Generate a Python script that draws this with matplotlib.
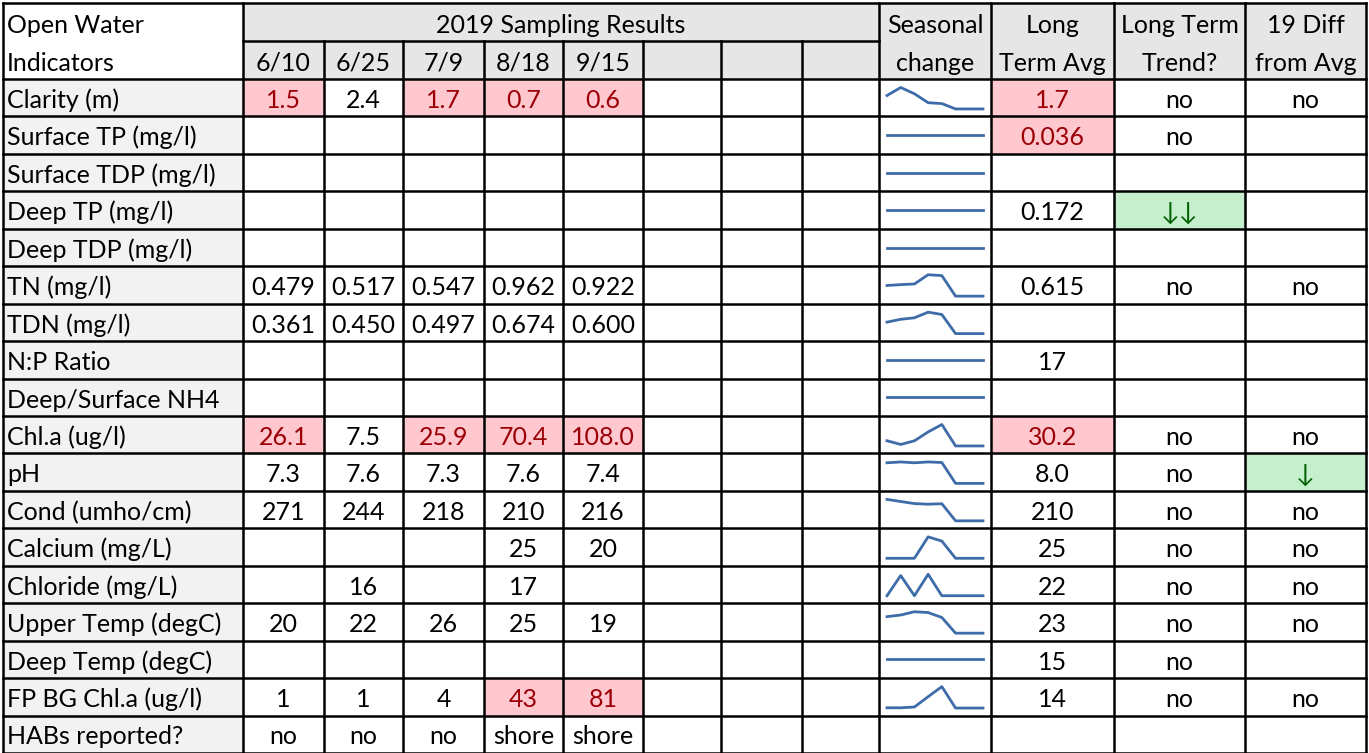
import matplotlib
matplotlib.use("Agg")
import matplotlib.pyplot as plt
from matplotlib.patches import Rectangle

# table content
dates = ["6/10", "6/25", "7/9", "8/18", "9/15", "", "", ""]
indicators = ["Clarity (m)", "Surface TP (mg/l)", "Surface TDP (mg/l)", "Deep TP (mg/l)",
              "Deep TDP (mg/l)", "TN (mg/l)", "TDN (mg/l)", "N:P Ratio", "Deep/Surface NH4",
              "Chl.a (ug/l)", "pH", "Cond (umho/cm)", "Calcium (mg/L)", "Chloride (mg/L)",
              "Upper Temp (degC)", "Deep Temp (degC)", "FP BG Chl.a (ug/l)", "HABs reported?"]

samples = [
    ["1.5", "2.4", "1.7", "0.7", "0.6"],
    [], [], [], [],
    ["0.479", "0.517", "0.547", "0.962", "0.922"],
    ["0.361", "0.450", "0.497", "0.674", "0.600"],
    [], [],
    ["26.1", "7.5", "25.9", "70.4", "108.0"],
    ["7.3", "7.6", "7.3", "7.6", "7.4"],
    ["271", "244", "218", "210", "216"],
    ["", "", "", "25", "20"],
    ["", "16", "", "17", ""],
    ["20", "22", "26", "25", "19"],
    [],
    ["1", "1", "4", "43", "81"],
    ["no", "no", "no", "shore", "shore"],
]
# cells flagged red (row, col)
bad_samples = [(0, 0), (0, 2), (0, 3), (0, 4), (9, 0), (9, 2), (9, 3), (9, 4), (16, 3), (16, 4)]

long_avg = ["1.7", "0.036", "", "0.172", "", "0.615", "", "17", "", "30.2", "8.0",
            "210", "25", "22", "23", "15", "14", ""]
bad_avg = [0, 1, 9]
trend = ["no", "no", "", "\u2193\u2193", "", "no", "", "", "", "no", "no",
         "no", "no", "no", "no", "no", "no", ""]
diff = ["no", "", "", "", "", "no", "", "", "", "no", "\u2193",
        "no", "no", "no", "no", "", "no", ""]

# layout in pixels
W, H = 1369, 753
col_x = [3, 243, 324, 403, 484, 563, 643, 721, 802, 879, 991, 1114, 1245, 1366]
top, h1, h2 = 3, 41, 79
row_h = (753 - h2) / 18.0

hdr_gray = "#E7E6E6"
lbl_gray = "#F2F2F2"
red_bg, red_fg = "#FFC7CE", "#9C0006"
grn_bg, grn_fg = "#C6EFCE", "#006100"
spark_col = "#3E6CA8"
fam = ["Lato", "DejaVu Sans"]
fs = 18

fig = plt.figure(figsize=(W / 100, H / 100), dpi=100)
ax = fig.add_axes([0, 0, 1, 1])
ax.set_xlim(0, W)
ax.set_ylim(H, 0)
ax.axis("off")


def fill(x0, y0, x1, y1, c):
    ax.add_patch(Rectangle((x0, y0), x1 - x0, y1 - y0, fc=c, ec="none", zorder=1))


def put(x, ybot, s, color="black", ha="center"):
    ax.text(x, ybot - 8.5, s, ha=ha, va="baseline", fontsize=fs, family=fam, color=color, zorder=3)


def line(x0, y0, x1, y1):
    ax.plot([x0, x1], [y0, y1], color="black", lw=1.8, solid_capstyle="projecting", zorder=4)


# header
fill(col_x[1], top, col_x[-1], h2, hdr_gray)
put(col_x[0] + 4, h1, "Open Water", ha="left")
put(col_x[0] + 4, h2, "Indicators", ha="left")
put((col_x[1] + col_x[9]) / 2, h1, "2019 Sampling Results")
for j, d in enumerate(dates):
    put((col_x[1 + j] + col_x[2 + j]) / 2, h2, d)
heads = [("Seasonal", "change"), ("Long", "Term Avg"), ("Long Term", "Trend?"), ("19 Diff", "from Avg")]
for k, (a, b) in enumerate(heads):
    cx = (col_x[9 + k] + col_x[10 + k]) / 2
    put(cx, h1, a)
    put(cx, h2, b)

# body
for i, name in enumerate(indicators):
    y0 = h2 + i * row_h
    y1 = y0 + row_h
    fill(col_x[0], y0, col_x[1], y1, lbl_gray)
    put(col_x[0] + 4, y1, name, ha="left")

    vals = samples[i] + [""] * (8 - len(samples[i]))
    for j, v in enumerate(vals):
        cx = (col_x[1 + j] + col_x[2 + j]) / 2
        c = "black"
        if (i, j) in bad_samples:
            fill(col_x[1 + j], y0, col_x[2 + j], y1, red_bg)
            c = red_fg
        put(cx, y1, v, color=c)

    # sparkline, empty cells count as zero like excel does
    if name != "HABs reported?":
        nums = [float(v) if v else 0.0 for v in vals]
        lo, hi = min(nums), max(nums)
        sx0, sx1 = col_x[9] + 8, col_x[10] - 8
        xs = [sx0 + (sx1 - sx0) * k / 7 for k in range(8)]
        mid = (y0 + y1) / 2
        if hi > lo:
            ys = [y1 - 7.5 - (n - lo) / (hi - lo) * (row_h - 16) for n in nums]
        else:
            ys = [mid] * 8
        ax.plot(xs, ys, color=spark_col, lw=2.0, zorder=3)

    c = "black"
    if i in bad_avg:
        fill(col_x[10], y0, col_x[11], y1, red_bg)
        c = red_fg
    put((col_x[10] + col_x[11]) / 2, y1, long_avg[i], color=c)

    for k, col in ((11, trend), (12, diff)):
        c = "black"
        if "\u2193" in col[i]:
            fill(col_x[k], y0, col_x[k + 1], y1, grn_bg)
            c = grn_fg
        put((col_x[k] + col_x[k + 1]) / 2, y1, col[i], color=c)

# borders
line(col_x[0], top, col_x[-1], top)
line(col_x[1], h1, col_x[9], h1)
for i in range(19):
    y = h2 + i * row_h
    line(col_x[0], y, col_x[-1], y)
for x in (col_x[0], col_x[1], col_x[9], col_x[10], col_x[11], col_x[12], col_x[13]):
    line(x, top, x, H)
for x in col_x[2:9]:
    line(x, h1, x, H)

fig.savefig("out.png", dpi=100)
